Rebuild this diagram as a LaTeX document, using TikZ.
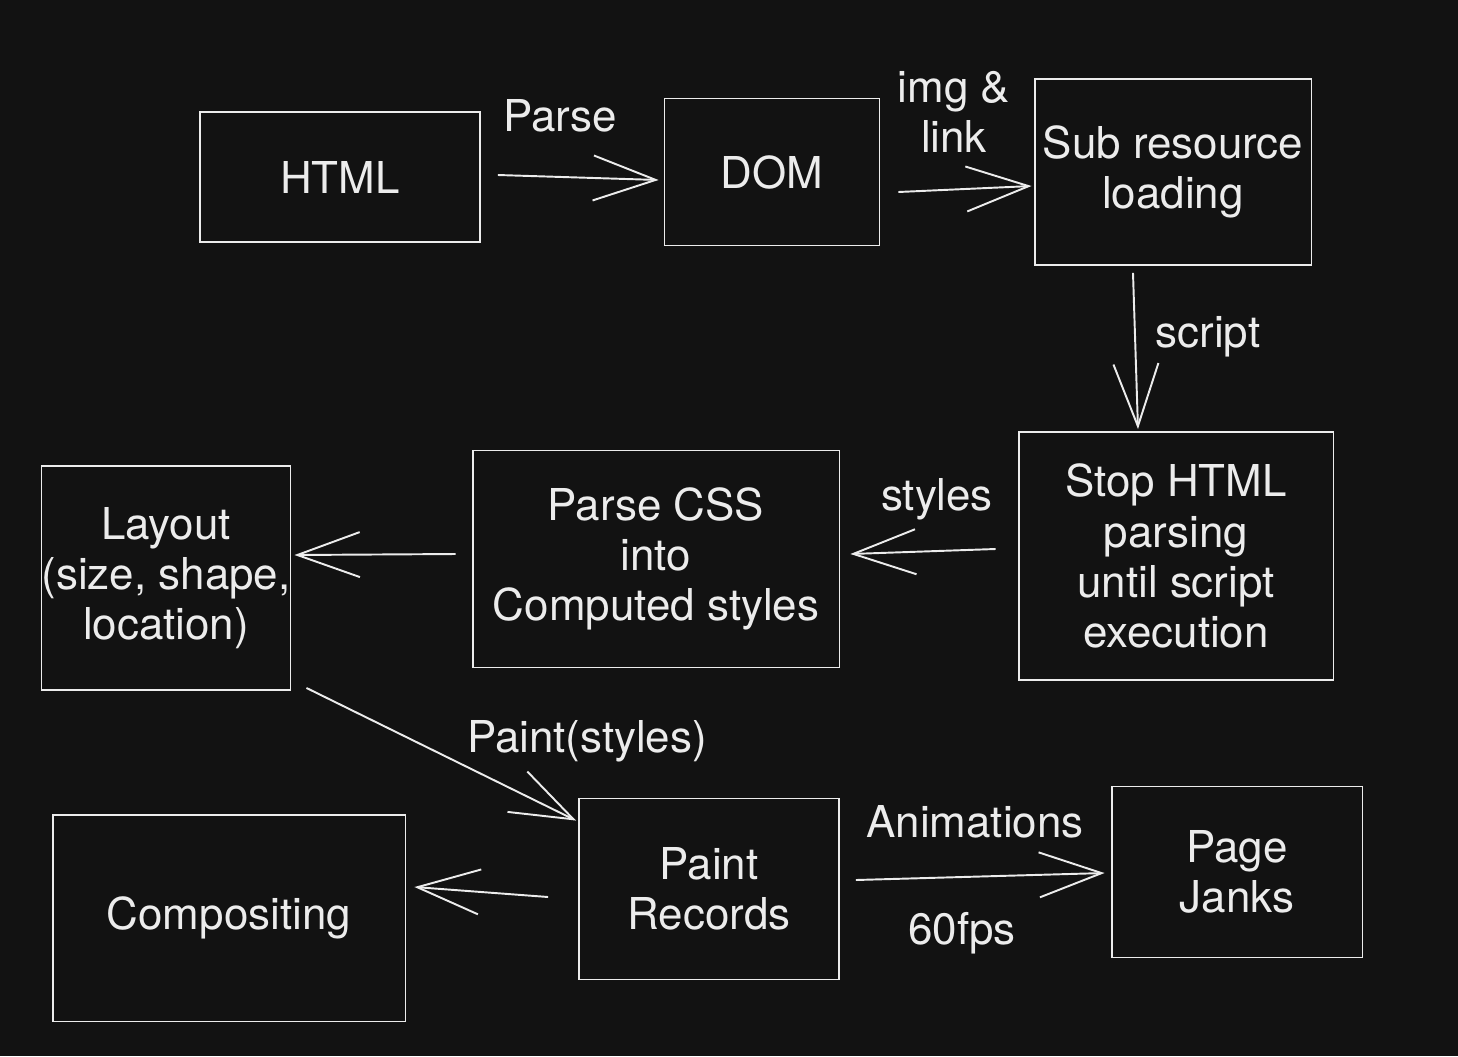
\documentclass[tikz,border=0pt]{standalone}
\usepackage{fontspec}
\setmainfont{TeX Gyre Heros}
\usepackage{xcolor}
\usetikzlibrary{arrows.meta,positioning,calc}
\definecolor{bgdark}{RGB}{18,18,18}
\definecolor{chalk}{RGB}{236,236,236}

\begin{document}
\begin{tikzpicture}[x=0.02cm,y=-0.02cm,
  stage/.style={rectangle,draw=chalk,line width=1.1pt,inner sep=0pt,align=center,
                text=chalk,font=\fontsize{25}{28.5}\selectfont},
  lbl/.style={text=chalk,align=center,inner sep=0pt,font=\fontsize{25}{28.5}\selectfont},
  line/.style={draw=chalk,line width=1.1pt,-{Straight Barb[length=1.25cm,width=0.9cm]}}]
\useasboundingbox[fill=bgdark] (0,0) rectangle (1458,1056);
\node[stage,minimum width=5.6cm,minimum height=2.6cm]   (html)   at (340,177)  {HTML};
\node[stage,minimum width=4.3cm,minimum height=2.94cm]  (dom)    at (772,172)  {DOM};
\node[stage,minimum width=5.54cm,minimum height=3.72cm] (sub)    at (1173,172) {Sub resource\\loading};
\node[stage,minimum width=6.3cm,minimum height=4.96cm]  (stop)   at (1176,556) {Stop HTML\\parsing\\until script\\execution};
\node[stage,minimum width=7.34cm,minimum height=4.34cm] (css)    at (656,559)  {Parse CSS\\into\\Computed styles};
\node[stage,minimum width=4.84cm,minimum height=4.48cm] (layout) at (166,578)  {Layout\\(size, shape,\\location)};
\node[stage,minimum width=5.2cm,minimum height=3.62cm]  (paint)  at (709,889)  {Paint\\Records};
\node[stage,minimum width=7.06cm,minimum height=4.14cm] (comp)   at (229,918)  {Compositing};
\node[stage,minimum width=5.02cm,minimum height=3.42cm] (janks)  at (1237,872) {Page\\Janks};
% connector labels
\node[lbl] (parselbl)  at (560,116)  {Parse};
\node[lbl] (imglbl)    at (954,112)  {img \&\\link};
\node[lbl] (scriptlbl) at (1208,337) {script};
\node[lbl] (styleslbl) at (937,499)  {styles};
\node[lbl] (paintlbl)  at (587,741)  {Paint(styles)};
\node[lbl] (animlbl)   at (975,822)  {Animations};
\node[lbl] (fpslbl)    at (962,933)  {60fps};
% connectors
\path[line] ([shift={(17,-2)}]html.east)         -- ([shift={(-5,8)}]dom.west);
\path[line] ([shift={(18,20)}]dom.east)          -- ([shift={(-2,14)}]sub.west);
\path[line] ([shift={(-40,7)}]sub.south)         -- ([shift={(-38,-2)}]stop.north);
\path[line] ([shift={(-22,-7)}]stop.west)        -- ([shift={(10,-5)}]css.east);
\path[line] ([shift={(-16,-5)}]css.west)         -- ([shift={(3,-23)}]layout.east);
\path[line] ([shift={(15,-3)}]layout.south east) -- ([shift={(-2,23)}]paint.north west);
\path[line] ([shift={(-30,8)}]paint.west)        -- ([shift={(8,-31)}]comp.east);
\path[line] ([shift={(16,-9)}]paint.east)        -- ([shift={(-6,1)}]janks.west);
\end{tikzpicture}
\end{document}
